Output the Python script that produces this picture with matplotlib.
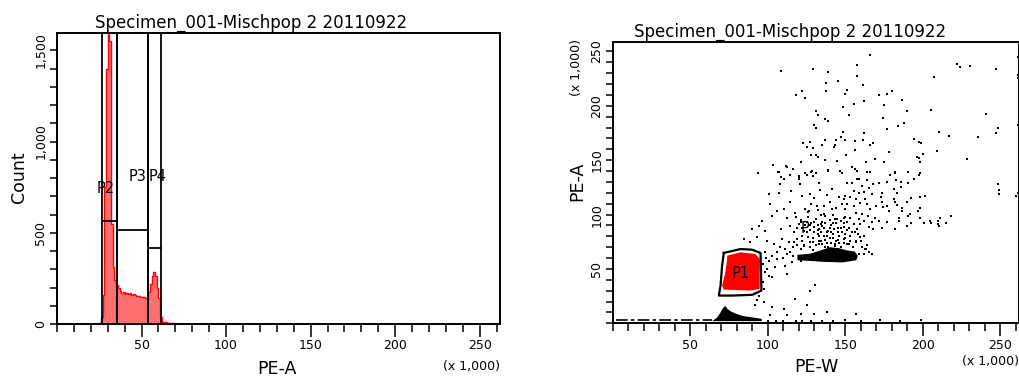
import matplotlib
matplotlib.use('Agg')
import matplotlib.pyplot as plt
from matplotlib.ticker import MultipleLocator, FixedLocator, FuncFormatter

plt.rcParams['font.family'] = ['DejaVu Sans']

W, H = 1020, 378

titel = 'Specimen_001-Mischpop 2 20110922'

# histogram PE-A (x 1,000), bin left edges and counts
hist_edges = [24, 25, 26, 27, 28, 29, 30, 31, 32, 33, 34, 35, 36, 37, 38, 39, 40,
              41, 42, 43, 44, 45, 46, 47, 48, 49, 50, 51, 52, 53, 54, 55, 56, 57,
              58, 59, 60, 61, 62, 63, 64, 65, 66, 67, 68, 69]
hist_counts = [4, 8, 40, 160, 750, 1400, 1700, 1550, 550, 310, 240, 215, 195, 180,
               170, 175, 165, 172, 165, 170, 160, 162, 158, 155, 152, 150, 148, 150,
               142, 150, 175, 220, 262, 285, 265, 200, 140, 40, 12, 10, 9, 8, 8, 7, 6]

# gates on the histogram
gates_x = [(26.4, 35.4), (35.4, 54.1), (54.1, 61.4)]
gates_y = [566, 515, 415]
gate_names = ['P2', 'P3', 'P4']
gate_lbl_x = [28.6, 47.4, 59.6]
gate_lbl_y = [740, 810, 810]

# dot plot PE-W vs PE-A (x 1,000)
punkte = [
    (166.1, 246.6), (157.3, 237.7), (128.9, 234.1), (108.3, 231.6), (138.6, 231.3),
    (157.3, 227.6), (145.5, 223.1), (137.7, 221.0), (161.2, 218.8), (121.8, 213.3),
    (151.3, 214.6), (137.7, 213.3), (149.6, 210.9), (117.9, 209.6), (171.9, 209.6),
    (124.0, 206.9), (162.0, 204.5), (155.4, 201.7), (148.5, 199.3), (130.8, 195.6),
    (132.6, 191.7), (152.4, 191.7), (136.6, 188.0), (138.8, 186.4), (129.8, 182.8),
    (130.8, 180.0), (148.3, 176.4), (162.0, 175.2), (147.4, 170.9), (122.9, 166.0),
    (127.0, 167.2), (136.9, 168.4), (144.0, 168.4), (149.6, 168.4), (156.3, 167.5),
    (161.2, 168.4), (168.1, 166.0), (135.0, 163.6), (125.0, 161.7), (128.9, 160.8),
    (143.5, 163.6), (166.1, 163.6), (142.5, 162.0), (156.3, 159.6), (127.9, 154.7),
    (130.8, 154.4), (132.2, 152.8), (150.2, 154.4), (136.6, 150.4), (144.4, 149.5),
    (168.9, 150.7), (121.2, 148.3), (163.1, 148.3), (103.5, 145.5), (112.1, 143.7),
    (116.0, 141.8), (154.3, 144.0), (156.0, 141.8), (157.3, 140.4), (93.4, 137.9),
    (106.3, 139.1), (128.7, 140.4), (127.6, 139.1), (130.8, 137.9), (138.6, 140.4),
    (125.0, 136.7), (146.6, 140.4), (147.6, 137.9), (163.9, 139.1), (166.1, 139.1),
    (108.3, 134.2), (119.9, 135.2), (119.9, 133.1), (159.0, 133.1), (163.9, 131.8),
    (261.2, 245.3), (222.1, 238.9), (223.8, 235.3), (230.6, 236.5), (247.4, 234.1),
    (261.2, 228.6), (261.2, 225.8), (207.2, 226.5), (180.1, 213.3), (176.9, 210.9),
    (186.8, 205.7), (175.0, 200.8), (189.6, 195.3), (205.3, 196.5), (240.5, 192.9),
    (174.1, 189.2), (187.6, 184.0), (183.7, 181.2), (176.9, 178.8), (261.2, 182.8),
    (248.3, 180.0), (247.4, 174.8), (210.2, 176.4), (217.1, 172.4), (235.6, 170.9),
    (194.5, 169.7), (197.5, 167.2), (198.6, 166.0), (209.2, 158.3), (177.9, 157.1),
    (200.3, 155.6), (196.5, 153.2), (197.5, 151.9), (174.9, 148.3), (198.4, 148.3),
    (228.7, 150.7), (181.8, 139.1), (190.6, 139.1), (198.4, 137.9), (197.5, 136.4),
    (178.8, 136.7), (194.5, 133.1), (182.9, 131.5),
    (248.3, 127.8), (249.4, 122.3), (249.4, 118.7), (260.1, 117.5), (261.2, 119.9),
    (218.0, 98.3), (211.1, 96.4), (209.6, 94.0), (209.8, 91.5), (210.2, 89.1),
    (215.2, 91.8), (204.4, 94.0), (205.5, 91.8), (200.5, 91.8), (197.9, 97.0),
    (192.1, 91.8), (189.5, 89.1), (181.8, 86.4), (173.9, 87.5), (168.1, 86.4),
    (201.2, 117.5), (198.4, 115.9), (198.4, 105.9), (196.7, 103.4), (191.5, 100.4),
    (190.2, 98.3), (192.1, 115.0), (189.5, 112.0), (194.5, 132.4), (190.6, 128.8),
    (186.1, 125.7), (185.7, 129.9), (183.4, 120.2), (181.2, 123.9), (181.8, 138.5),
    (178.8, 136.4), (176.9, 130.3), (174.9, 148.0), (186.6, 105.9), (186.6, 103.4),
    (184.6, 97.0), (184.6, 94.0), (181.8, 111.6), (181.2, 114.7), (183.4, 109.2),
    (176.9, 108.0), (178.2, 103.4), (173.4, 120.2), (172.8, 116.6), (173.9, 111.6),
    (170.0, 108.0), (174.3, 106.8), (169.2, 96.4), (171.7, 94.0), (176.6, 93.3),
    (168.1, 128.1), (165.3, 124.8), (167.4, 119.0), (171.9, 128.8), (164.8, 98.8),
    (163.1, 68.3), (161.8, 63.7), (159.0, 63.7), (157.1, 8.8),
    (103.3, 145.2), (111.9, 144.3), (107.4, 139.4), (110.6, 133.0), (107.6, 127.8),
    (114.1, 136.1), (120.1, 134.0), (120.5, 127.8), (124.2, 138.5), (128.9, 135.4),
    (132.8, 129.4), (138.8, 140.7), (121.0, 148.6), (100.5, 118.7), (107.0, 120.2),
    (115.0, 121.7), (114.1, 111.6), (122.1, 117.1), (127.4, 118.7), (133.9, 122.6),
    (141.4, 123.9), (101.6, 109.5), (105.9, 103.4), (102.7, 98.8), (110.2, 104.9),
    (112.4, 97.3), (117.7, 101.9), (121.0, 92.8), (126.3, 103.4), (131.7, 108.0),
    (136.0, 100.4), (141.4, 104.9), (144.6, 95.8), (96.3, 94.2), (94.1, 89.7),
    (89.8, 86.6), (98.4, 85.1), (108.1, 86.6), (114.5, 89.7), (116.6, 83.6),
    (123.1, 85.1), (129.5, 88.2), (135.0, 89.7), (138.2, 83.6), (142.5, 86.6),
    (84.4, 77.5), (88.7, 74.5), (93.0, 79.0), (99.5, 75.9), (103.7, 72.9),
    (109.2, 77.5), (113.4, 74.5), (118.8, 77.5), (123.1, 71.3), (127.4, 74.5),
    (132.8, 75.9), (137.1, 69.9), (143.5, 71.3), (98.4, 65.3), (102.7, 62.2),
    (100.5, 57.6), (105.9, 59.2), (99.5, 50.0), (104.8, 51.6), (111.3, 53.0),
    (115.6, 56.1), (121.0, 57.6), (100.5, 43.9), (102.7, 42.4), (112.4, 45.4),
    (130.6, 35.3), (127.4, 30.1), (97.3, 31.7), (94.1, 25.5), (93.0, 21.0),
    (91.9, 16.4), (97.3, 19.5), (102.7, 14.9), (110.2, 13.4), (117.7, 22.5),
    (125.3, 16.4), (112.4, 7.2), (121.0, 8.8), (129.5, 8.8), (101.6, 7.2),
    (138.2, 10.3), (97.0, 55.0), (98.0, 47.0), (96.5, 38.0), (99.0, 60.0),
    (147.9, 138.5), (151.1, 128.8), (154.3, 128.8), (157.5, 132.4), (160.8, 126.3),
    (155.4, 121.7), (158.6, 120.2), (161.8, 121.2), (150.0, 117.1), (153.2, 116.6),
    (148.9, 114.1), (156.5, 114.7), (162.9, 114.7), (151.1, 109.5), (155.4, 108.0),
    (159.7, 111.1), (164.0, 109.5), (150.0, 104.9), (156.5, 101.9), (160.8, 100.4),
    (166.1, 104.9), (148.9, 97.3), (153.2, 97.3), (158.6, 95.8), (161.8, 94.2),
    (151.1, 92.8), (155.4, 91.2), (159.7, 91.2), (148.9, 88.2), (157.5, 86.6),
    (165.0, 88.2), (150.0, 82.0), (154.3, 83.6), (159.7, 79.0), (148.9, 77.5),
    (153.2, 75.9), (156.5, 74.5), (162.9, 68.3), (151.1, 72.9), (167.2, 92.8),
    (121, 95), (124, 90), (126, 98), (128, 92), (131, 96), (133, 87), (135, 93),
    (137, 99), (139, 85), (141, 90), (143, 96), (145, 88), (147, 94), (122, 80),
    (125, 84), (129, 78), (132, 82), (134, 76), (136, 80), (138, 74), (140, 78),
    (142, 82), (144, 76), (146, 80), (148, 84), (123, 72), (127, 70), (131, 72),
    (135, 73), (139, 70), (143, 73), (147, 70), (124, 105), (128, 110), (132, 104),
    (136, 108), (140, 112), (144, 106), (148, 110), (130, 115), (138, 118),
    (146, 116), (142, 100), (134, 100), (126, 102), (150, 98), (152, 88), (145, 68),
    (137, 66), (129, 67), (121, 68), (117, 75), (119, 88), (118, 98), (140, 95),
    (136, 88), (132, 90), (127, 86), (144, 92), (141, 84), (133, 80),
    (120, 91), (122, 88), (125, 93), (127, 90), (130, 93), (132, 86), (134, 91),
    (137, 92), (140, 88), (142, 92), (145, 84), (147, 88), (149, 92), (151, 86),
    (153, 80), (156, 84), (158, 82), (160, 76), (162, 80), (164, 72), (155, 70),
    (149, 74), (145, 77), (141, 74), (137, 77), (133, 73), (129, 75), (126, 79),
    (122, 76), (119, 72), (116, 70), (114, 66), (111, 68), (108, 70), (106, 66),
    (130, 84), (134, 84), (138, 80), (142, 78), (146, 74), (150, 78), (152, 73),
    (157, 76), (161, 70), (165, 66), (167, 64), (112, 64), (116, 62), (110, 60),
    (100, 2.5), (105, 2.5), (110, 2.5), (118, 2.5), (122, 2.5), (128, 2.5),
    (135, 2.5), (142, 2.5), (149.4, 3.3), (160, 2.5), (172.1, 3.3), (185, 2.5),
    (198.6, 3.3),
]

# dense regions of the dot plot
p1_wolke_x = [73.7, 82.3, 91.9, 94.7, 94.7, 88.7, 71.5, 70.4, 72.5, 73.7]
p1_wolke_y = [62.2, 65.3, 63.7, 59.2, 31.7, 30.1, 31.0, 34.7, 47.0, 59.2]
streifen_x = [119, 119, 127, 134, 140, 146, 151, 156, 158, 157, 148, 136, 126]
streifen_y = [58, 63, 64, 67, 70, 69, 67, 66, 62, 58, 56, 56.5, 57.5]
sockel_x = [64, 67, 69, 71, 72.5, 74, 76, 79, 83, 87, 92, 96, 96, 64]
sockel_y = [2, 5, 9, 14, 16, 13, 11, 9, 7, 6, 5, 4, 2, 2]
linie_x = [2, 64]
linie_y = [3.0, 3.0]

# gate P1
p1_gate_x = [71.5, 82.3, 89.8, 95.2, 95.8, 89.8, 76.9, 68.3, 69.4, 70.4, 71.5]
p1_gate_y = [64.7, 68.3, 67.7, 64.7, 30.1, 26.2, 25.5, 25.5, 34.7, 53.0, 64.7]


def fx(px):
    return px / W


def fy(py):
    return 1 - py / H


fig = plt.figure(figsize=(W / 100, H / 100), dpi=100)

tausend = FuncFormatter(lambda v, p: '{:,}'.format(int(v)))

# ---- left: histogram
ax1 = fig.add_axes([fx(57), fy(324), fx(500) - fx(57), fy(33) - fy(324)])
ax1.stairs(hist_counts, hist_edges, fill=True, color='#ff6f6f')
ax1.stairs(hist_counts, hist_edges, color='#ff0000', linewidth=1)
for (a, b), lvl in zip(gates_x, gates_y):
    ax1.plot([a, a], [0, 1600], color='black', lw=1.3)
    ax1.plot([b, b], [0, 1600], color='black', lw=1.3)
    ax1.plot([a, b], [lvl, lvl], color='black', lw=1.3)
for n, tx, ty in zip(gate_names, gate_lbl_x, gate_lbl_y):
    ax1.text(tx, ty, n, ha='center', va='center', fontsize=10.5)
ax1.set_xlim(0, 262)
ax1.set_ylim(0, 1595)
ax1.xaxis.set_major_locator(FixedLocator([50, 100, 150, 200, 250]))
ax1.xaxis.set_minor_locator(MultipleLocator(10))
ax1.yaxis.set_major_locator(FixedLocator([0, 500, 1000, 1500]))
ax1.yaxis.set_minor_locator(MultipleLocator(100))
ax1.yaxis.set_major_formatter(tausend)

# ---- right: dot plot
ax2 = fig.add_axes([fx(613), fy(323.3), fx(1019) - fx(613), fy(41.7) - fy(323.3)])
px_, py_ = zip(*punkte)
ax2.fill(streifen_x, streifen_y, color='black', lw=0)
ax2.fill(sockel_x, sockel_y, color='black', lw=0)
ax2.plot(linie_x, linie_y, color='black', lw=1.2, linestyle=(0, (7, 2, 2, 2)))
ax2.scatter(px_, py_, s=1.5, color='black', marker='s', linewidths=0)
ax2.fill(p1_wolke_x, p1_wolke_y, color='#ff0000', lw=0)
ax2.plot(p1_gate_x, p1_gate_y, color='black', lw=1.6)
ax2.text(82.3, 45.4, 'P1', ha='center', va='center', fontsize=10.5)
ax2.text(124, 87, 'P', ha='center', va='center', fontsize=10.5)
ax2.set_xlim(0, 262)
ax2.set_ylim(0, 259)
ax2.xaxis.set_major_locator(FixedLocator([50, 100, 150, 200, 250]))
ax2.xaxis.set_minor_locator(MultipleLocator(10))
ax2.yaxis.set_major_locator(FixedLocator([50, 100, 150, 200, 250]))
ax2.yaxis.set_minor_locator(MultipleLocator(10))

for ax in (ax1, ax2):
    for s in ax.spines.values():
        s.set_linewidth(1.4)
    ax.tick_params(axis='x', which='major', length=9, width=1.1, labelsize=9, pad=2)
    ax.tick_params(axis='x', which='minor', length=5.5, width=1.1)
    ax.tick_params(axis='y', which='both', length=5, width=1.1)
    ax.tick_params(axis='y', which='major', labelsize=9, labelrotation=90, pad=2)
    for lab in ax.get_yticklabels():
        lab.set_va('center')

fig.text(fx(251), fy(22.7), titel, ha='center', va='center', fontsize=12)
fig.text(fx(790), fy(31.7), titel, ha='center', va='center', fontsize=12)
fig.text(fx(19), fy(177), 'Count', rotation=90, ha='center', va='center', fontsize=12.5)
fig.text(fx(277), fy(369), 'PE-A', ha='center', va='center', fontsize=12.5)
fig.text(fx(471.7), fy(366.5), '(x 1,000)', ha='center', va='center', fontsize=9)
fig.text(fx(577), fy(181.7), 'PE-A', rotation=90, ha='center', va='center', fontsize=12.5)
fig.text(fx(577), fy(68), '(x 1,000)', rotation=90, ha='center', va='center', fontsize=9)
fig.text(fx(816.7), fy(366.5), 'PE-W', ha='center', va='center', fontsize=12.5)
fig.text(fx(991), fy(362), '(x 1,000)', ha='center', va='center', fontsize=9)

fig.savefig('out.png', dpi=100)
